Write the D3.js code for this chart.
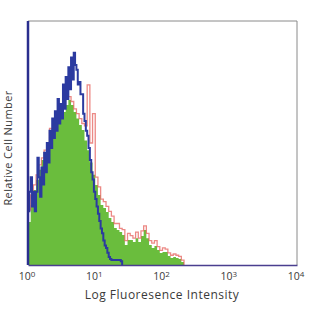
<!DOCTYPE html>
<html>
<head>
<meta charset="utf-8">
<script src="https://cdn.jsdelivr.net/npm/d3@7"></script>
<style>
  html, body { margin: 0; padding: 0; background: #fff; }
  svg { display: block; }
  text { font-family: "Open Sans", "DejaVu Sans", sans-serif; fill: #3a3a3a; }
</style>
</head>
<body>
<svg id="chart" width="312" height="312"></svg>
<script>
// ---- data: histogram bins in log10 space, starting at 10^0 ----
const tickValues = [1, 10, 100, 1000, 10000];
const tickExponents = ["0", "1", "2", "3", "4"];
const xTitle = "Log Fluoresence Intensity";
const yTitle = "Relative Cell Number";

// blue (fine bins, 0.02 decade)
const blueBinLog = 0.02;
const blueValues = [22, 30, 36, 24, 30, 22, 30, 44, 36, 28, 40, 33, 46, 38, 50, 42, 55, 48, 60, 52,
  63, 55, 68, 58, 66, 60, 74, 64, 77, 68, 81, 72, 85, 76, 87, 82, 80, 74, 75, 70,
  70, 62, 59, 55, 53, 48, 43, 38, 35, 30, 27, 24, 21, 18, 15, 13, 10, 8, 7, 5,
  3.3, 2.5, 2, 2, 2, 2, 2, 2, 2, 1.5];

// green and red (0.04 decade bins)
const binWidthLog = 0.04;
const greenValues = [17.6, 24.6, 30.7, 34.8, 39, 43, 46.3, 49, 51, 54.5, 56, 58.6, 60, 62.7, 65.6, 67.6,
  65.6, 62.7, 60, 57.4, 55.3, 51, 47, 42, 37, 32.8, 28.7, 24.6, 23.4, 21.7, 19.3, 17.6, 15.2, 14.3, 13.5,
  12.3, 8.2, 10.2, 10.2, 9.4, 11, 9.4, 11.9, 14.3, 11, 8.2, 7, 7.8, 6.1, 4.9, 5.3, 5.3, 3.7, 2.9, 3.3,
  2.9, 2.5, 1.2];

const redValues = [22.5, 28.7, 32.8, 36.9, 41, 43.9, 47.1, 50, 56, 55, 58, 60, 62, 72.5, 70,
  69, 67, 64, 62, 60, 58, 57, 73.8, 50, 62, 36, 32, 27, 26, 24, 22, 20,
  17, 17, 15, 14.5, 10, 13, 12, 11, 13.5, 11, 14, 16, 13, 10, 9, 10, 7.5, 6, 7,
  6.5, 5, 4, 4.5, 4, 3.5, 2];

// ---- layout ----
const svg = d3.select("#chart");
const mLeft = 28, mRight = 297, mTop = 21, mBottom = 265;

const x = d3.scaleLog().domain([1, 10000]).range([mLeft, mRight]);
const y = d3.scaleLinear().domain([0, 100]).range([mBottom, mTop]);

function toPoints(vals, w) {
  const pts = vals.map((v, i) => ({ x: Math.pow(10, i * w), v }));
  pts.push({ x: Math.pow(10, vals.length * w), v: 0 });
  return pts;
}

const area = d3.area()
  .x(d => x(d.x)).y0(y(0)).y1(d => y(d.v))
  .curve(d3.curveStepAfter);
const line = d3.line()
  .x(d => x(d.x)).y(d => y(d.v))
  .curve(d3.curveStepAfter);

// green filled histogram
svg.append("path")
  .attr("d", area(toPoints(greenValues, binWidthLog)))
  .attr("fill", "#6abd3d");

// red outline histogram
svg.append("path")
  .attr("d", line(toPoints(redValues, binWidthLog)))
  .attr("fill", "none")
  .attr("stroke", "#e5625c")
  .attr("stroke-opacity", 0.75)
  .attr("stroke-width", 1.3);

// blue outline histogram
svg.append("path")
  .attr("d", line(toPoints(blueValues, blueBinLog)))
  .attr("fill", "none")
  .attr("stroke", "#2b3aa0")
  .attr("stroke-width", 2);

// frame: top and right gray
svg.append("line").attr("x1", mLeft).attr("x2", mRight).attr("y1", mTop).attr("y2", mTop)
  .attr("stroke", "#8a8a8a").attr("stroke-width", 1);
svg.append("line").attr("x1", mRight).attr("x2", mRight).attr("y1", mTop).attr("y2", mBottom)
  .attr("stroke", "#8a8a8a").attr("stroke-width", 1);

// bottom axis
const xAxis = d3.axisBottom(x).tickValues(tickValues).tickSize(0).tickPadding(8).tickFormat(() => "10");
const gx = svg.append("g").attr("transform", `translate(0,${mBottom})`).call(xAxis);
gx.select(".domain").attr("stroke", "#4a3f8f").attr("stroke-width", 1.5);
gx.selectAll(".tick text")
  .attr("font-size", 10.5)
  .attr("fill", "#3a3a3a")
  .attr("dx", "-0.15em")
  .each(function (d, i) {
    d3.select(this).append("tspan")
      .attr("dy", "-0.45em").attr("font-size", 8)
      .text(tickExponents[i]);
  });

// left axis (blue line)
svg.append("line").attr("x1", mLeft).attr("x2", mLeft).attr("y1", mTop).attr("y2", mBottom)
  .attr("stroke", "#2a2e8e").attr("stroke-width", 2.5);

// axis titles
svg.append("text")
  .attr("x", 162).attr("y", 299)
  .attr("text-anchor", "middle")
  .attr("font-size", 12)
  .attr("letter-spacing", 0.5)
  .text(xTitle);

svg.append("text")
  .attr("transform", "translate(12,148) rotate(-90)")
  .attr("text-anchor", "middle")
  .attr("font-size", 11)
  .attr("letter-spacing", 0.4)
  .text(yTitle);
</script>
</body>
</html>
